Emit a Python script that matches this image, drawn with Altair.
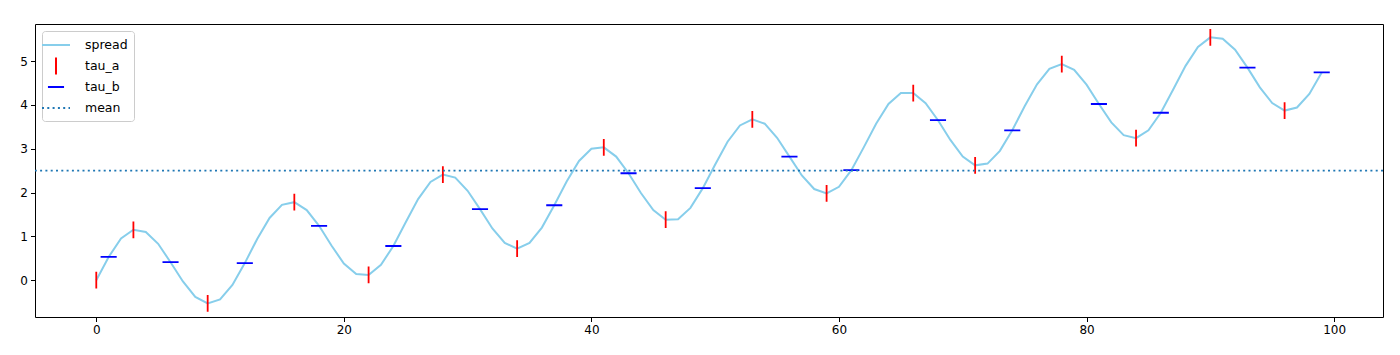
import altair as alt
import pandas as pd

# ---- data ----
spread = [
    0.00, 0.53, 0.95, 1.15, 1.10, 0.83, 0.41, -0.03, -0.38, -0.53,
    -0.44, -0.11, 0.39, 0.94, 1.42, 1.72, 1.78, 1.60, 1.24, 0.79,
    0.38, 0.14, 0.12, 0.35, 0.78, 1.32, 1.85, 2.24, 2.41, 2.34,
    2.04, 1.62, 1.18, 0.85, 0.72, 0.85, 1.20, 1.71, 2.25, 2.72,
    3.00, 3.03, 2.82, 2.44, 1.99, 1.60, 1.38, 1.39, 1.65, 2.10,
    2.64, 3.16, 3.53, 3.67, 3.57, 3.25, 2.82, 2.39, 2.08, 1.98,
    2.13, 2.51, 3.03, 3.57, 4.02, 4.27, 4.27, 4.04, 3.65, 3.20,
    2.82, 2.62, 2.66, 2.95, 3.42, 3.97, 4.47, 4.82, 4.93, 4.80,
    4.46, 4.02, 3.60, 3.31, 3.24, 3.42, 3.82, 4.35, 4.89, 5.32,
    5.54, 5.51, 5.26, 4.85, 4.40, 4.04, 3.87, 3.94, 4.25, 4.74,
]
tau_a_idx = [0, 3, 9, 16, 22, 28, 34, 41, 46, 53, 59, 66, 71, 78, 84, 90, 96]
tau_b_idx = [1, 6, 12, 18, 24, 31, 37, 43, 49, 56, 61, 68, 74, 81, 86, 93, 99]

series_names = ["spread", "tau_a", "tau_b", "mean"]
series_colors = ["#87ceeb", "#ff0000", "#0000ff", "#1f77b4"]
series_shapes = ["M-2,0L2,0", "M0,-1.2L0,1.2", "M-1.15,0L1.15,0", "M-2,0L2,0"]
series_dashes = [[1, 0], [1, 0], [1, 0], [2, 3.3]]
x_ticks = [0, 20, 40, 60, 80, 100]
y_ticks = [0, 1, 2, 3, 4, 5]

df_line = pd.DataFrame({"x": list(range(len(spread))), "y": spread})
df_marks = pd.DataFrame({
    "x": tau_a_idx + tau_b_idx,
    "y": [spread[i] for i in tau_a_idx] + [spread[i] for i in tau_b_idx],
    "series": ["tau_a"] * len(tau_a_idx) + ["tau_b"] * len(tau_b_idx),
})

FONT = "DejaVu Sans"
xscale = alt.Scale(domain=[-4.95, 103.95], nice=False, zero=False)
yscale = alt.Scale(domain=[-0.84, 5.845], nice=False, zero=False)
axis_common = dict(title=None, grid=False, domain=False, labelFont=FONT,
                   labelFontSize=12, labelColor="black", tickColor="black",
                   tickSize=4.5, tickWidth=1, labelPadding=3)
xaxis = alt.Axis(values=x_ticks, **axis_common)
yaxis = alt.Axis(values=y_ticks, **axis_common)

legend = alt.Legend(
    title=None, orient="top-left", offset=7, fillColor="rgba(255,255,255,0.8)",
    strokeColor="#cccccc", cornerRadius=3, padding=6, gridAlign="all",
    symbolSize=196, symbolStrokeWidth=2, labelFont=FONT, labelFontSize=12.5,
    labelColor="black", rowPadding=-5, labelOffset=21,
)

line = alt.Chart(df_line).mark_line(color="#87ceeb", strokeWidth=2).encode(
    x=alt.X("x:Q", scale=xscale, axis=xaxis),
    y=alt.Y("y:Q", scale=yscale, axis=yaxis),
)

marks = alt.Chart(df_marks).mark_point(filled=False, size=196, strokeWidth=1.8, opacity=1).encode(
    x=alt.X("x:Q", scale=xscale, axis=xaxis),
    y=alt.Y("y:Q", scale=yscale, axis=yaxis),
    color=alt.Color("series:N", scale=alt.Scale(domain=series_names, range=series_colors), legend=legend),
    shape=alt.Shape("series:N", scale=alt.Scale(domain=series_names, range=series_shapes), legend=legend),
    strokeDash=alt.StrokeDash("series:N", scale=alt.Scale(domain=series_names, range=series_dashes), legend=legend),
)

mean_rule = alt.Chart(df_line).mark_rule(color="#1f77b4", strokeWidth=1.9, strokeDash=[2, 3.3]).encode(
    y=alt.Y("mean(y):Q", scale=yscale, axis=yaxis),
)

chart = alt.layer(line, marks, mean_rule).properties(
    width=1348, height=293,
    autosize=alt.AutoSizeParams(type="none"),
    padding={"left": 35, "top": 24, "right": 17, "bottom": 38},
    background="white",
).configure_view(
    stroke="black", strokeWidth=1
)

chart.save("out.html", embed_options={"renderer": "svg", "actions": False})
